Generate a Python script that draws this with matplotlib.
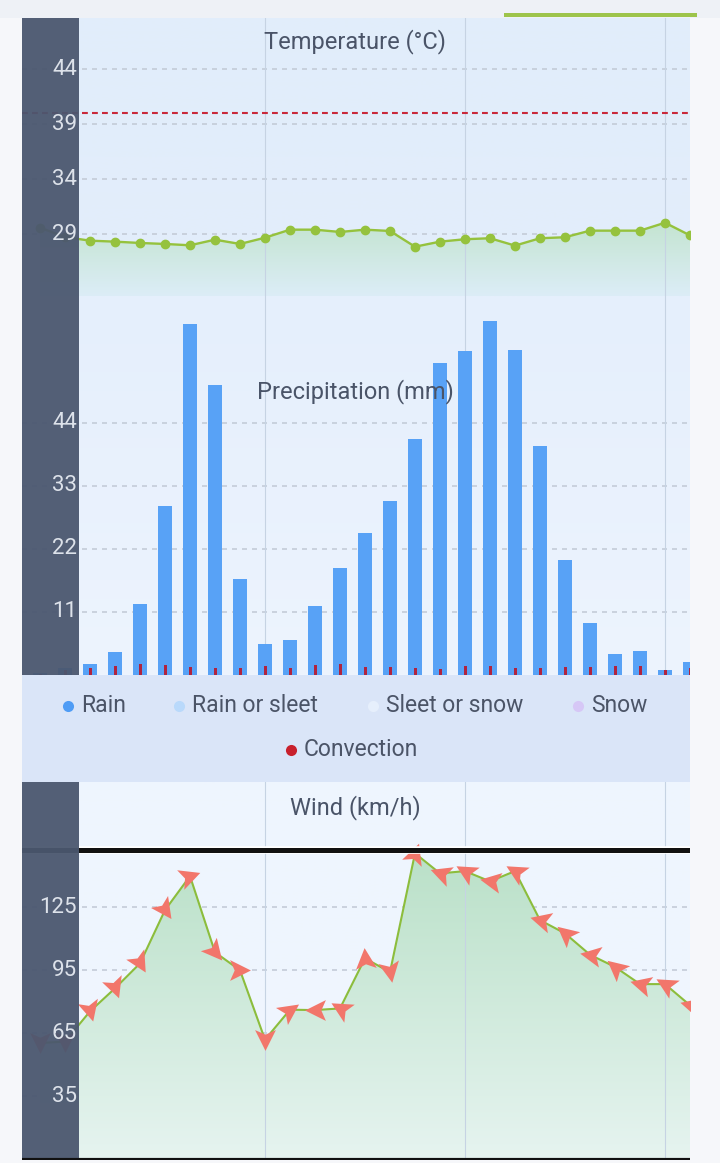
import numpy as np
import matplotlib
matplotlib.use("Agg")
import matplotlib.pyplot as plt
from matplotlib.patches import Rectangle
from matplotlib.markers import MarkerStyle
from matplotlib.path import Path
from matplotlib.transforms import Affine2D, blended_transform_factory
from matplotlib.colors import to_rgba

plt.rcParams['font.family'] = ['Roboto', 'DejaVu Sans']
plt.rcParams['lines.scale_dashes'] = False

# ---------------- data ----------------
# hourly slots; index -2 and -1 lie under the sticky axis panel
slots = list(range(-2, 25))
temperature = [29.6, 28.75,
               28.42, 28.33, 28.21, 28.12, 28.0, 28.51, 28.12, 28.69, 29.42, 29.42,
               29.21, 29.42, 29.3, 27.87, 28.33, 28.55, 28.64, 27.97, 28.64, 28.73,
               29.33, 29.33, 29.33, 30.05, 28.9]
heat_threshold = 40.0
rain = [0.3, 1.2,
        1.9, 4.0, 12.3, 29.4, 61.2, 50.6, 16.8, 5.45, 6.15, 12.0,
        18.7, 24.7, 30.4, 41.2, 54.4, 56.5, 61.7, 56.7, 39.9, 20.0,
        9.05, 3.6, 4.2, 0.93, 2.26]
convection = [0.2, 0.8,
              1.16, 1.57, 1.86, 1.74, 1.45, 1.28, 1.16, 1.57, 1.16, 1.74,
              1.86, 1.45, 1.39, 1.28, 1.1, 1.51, 1.57, 1.28, 1.28, 1.39,
              1.45, 1.57, 1.57, 0.8, 1.28]
wind = [60.3, 61.0,
        75.4, 86.4, 98.3, 123.7, 139.9, 103.6, 95.0, 61.9, 76.2, 76.0,
        76.8, 100.7, 94.1, 150.8, 141.2, 142.3, 137.4, 142.3, 118.9, 112.6,
        102.4, 96.6, 88.4, 88.4, 78.3]
wind_dir = [270, 270,
            285, 290, 300, 305, 20, 310, 0, 270, 35, 180,
            150, 95, 280, 70, 160, 150, 170, 150, 165, 140,
            170, 140, 165, 150, 165]
wind_cap = 152.3
day_boundaries = [7, 15, 23]

temp_ticks = [29, 34, 39, 44]
precip_ticks = [11, 22, 33, 44]
wind_ticks = [35, 65, 95, 125]

legend_labels = ["Rain", "Rain or sleet", "Sleet or snow", "Snow", "Convection"]
legend_colors = ["#4f9cf5", "#b9d9fb", "#e6effc", "#d6c7f6", "#c8202d"]

titles = ["Temperature (°C)", "Precipitation (mm)", "Wind (km/h)"]

# ---------------- layout ----------------
W, H = 720, 1163
fig = plt.figure(figsize=(W / 100, H / 100), dpi=100)
fig.patch.set_facecolor("#f6f7fa")

def fx(px):
    return px / W

def fy(py):
    return 1 - py / H

L, R = 22, 690
PANEL_R = 79

def make_ax(top, bottom):
    return fig.add_axes([fx(L), fy(bottom), fx(R - L), (bottom - top) / H])

# top strip
fig.add_artist(Rectangle((0, fy(18)), 1, 18 / H, transform=fig.transFigure,
                         facecolor="#eef1f6", edgecolor="none", zorder=0))
fig.add_artist(Rectangle((fx(504), fy(17)), fx(193), 4 / H, transform=fig.transFigure,
                         facecolor="#9dc44b", edgecolor="none", zorder=1))

ax_t = make_ax(18, 296)
ax_p = make_ax(296, 675)
ax_l = make_ax(675, 782)
ax_w = make_ax(782, 1160)

x = np.array(slots, dtype=float)
xlim = (-2.72, 24.0)

def vgrad(ax, ytop, ybot, ctop, cbot, zorder=0.5, clip=None):
    n = 256
    c1 = np.array(to_rgba(ctop))
    c2 = np.array(to_rgba(cbot))
    t = np.linspace(0, 1, n)[:, None]
    arr = (c1 * (1 - t) + c2 * t)[:, None, :]
    im = ax.imshow(arr, extent=[xlim[0], xlim[1], ybot, ytop], aspect='auto',
                   origin='upper', zorder=zorder, interpolation='bilinear')
    if clip is not None:
        im.set_clip_path(clip, transform=ax.transData)
    return im

def style(ax, ylim, ticks, bg_top, bg_bot):
    ax.set_xlim(*xlim)
    ax.set_ylim(*ylim)
    for s in ax.spines.values():
        s.set_visible(False)
    ax.set_xticks([])
    ax.set_yticks([])
    vgrad(ax, ylim[1], ylim[0], bg_top, bg_bot, zorder=0.1)
    for v in ticks:
        ax.axhline(v, color="#c4ccd8", lw=1.2, dashes=(3.6, 3.6), zorder=1)
    for d in day_boundaries:
        ax.axvline(d, color="#c6d3e3", lw=0.8, zorder=1.2)
    ax.add_patch(Rectangle((0, 0), (PANEL_R - L) / (R - L), 1, transform=ax.transAxes,
                           facecolor="#4b576f", alpha=0.95, edgecolor="none", zorder=10))
    tr = blended_transform_factory(ax.transAxes, ax.transData)
    for v in ticks:
        ax.text((77 - L) / (R - L), v, str(v), transform=tr, ha='right', va='center',
                fontsize=16, color="#dde2ea", zorder=11)

TITLE_FS = 17

# ---------- temperature ----------
t_ylim = (23.39, 48.66)
style(ax_t, t_ylim, temp_ticks, "#e1edfb", "#e3eefb")
fb = ax_t.fill_between(x, temperature, t_ylim[0], facecolor="none", edgecolor="none")
vgrad(ax_t, 30.3, t_ylim[0], "#c3e4cf", "#dcedf7", zorder=1.1, clip=fb.get_paths()[0])
ax_t.axhline(heat_threshold, color="#c9283a", lw=1.5, dashes=(4.2, 3.0), zorder=2)
ax_t.plot(x, temperature, color="#95c23d", lw=1.7, marker='o', ms=6, zorder=3)
ax_t.text((355 - L) / (R - L), 1 - (42 - 18) / 278, titles[0], transform=ax_t.transAxes,
          ha='center', va='center', fontsize=TITLE_FS, color="#4a5468", zorder=5)
ax_t.set_xlim(*xlim); ax_t.set_ylim(*t_ylim)

# ---------- precipitation ----------
p_ylim = (0, 66.1)
style(ax_p, p_ylim, precip_ticks, "#e5effc", "#edf4fe")
ax_p.bar(x, rain, width=0.56, color="#58a2f6", zorder=3)
ax_p.bar(x, convection, width=0.12, color="#b0233f", zorder=4)
ax_p.text((355 - L) / (R - L), 1 - (392 - 296) / 379, titles[1], transform=ax_p.transAxes,
          ha='center', va='center', fontsize=TITLE_FS, color="#4a5468", zorder=5)
ax_p.set_xlim(*xlim); ax_p.set_ylim(*p_ylim)

# ---------- legend band ----------
ax_l.set_xlim(L, R)
ax_l.set_ylim(782, 675)
ax_l.set_facecolor("#dae5f8")
for s in ax_l.spines.values():
    s.set_visible(False)
ax_l.set_xticks([]); ax_l.set_yticks([])
legend_pos = [(68, 706), (179, 706), (373, 706), (578, 706), (291, 750)]
for (lx, ly), lab, col in zip(legend_pos, legend_labels, legend_colors):
    ax_l.plot(lx, ly, 'o', ms=8, color=col, mec='none')
    ax_l.text(lx + 13, ly, lab, ha='left', va='center', fontsize=16.5, color="#4b5467")

# ---------- wind ----------
w_ylim = (4.5, 184.8)
style(ax_w, w_ylim, wind_ticks, "#eef5fe", "#f0f6fe")
fbw = ax_w.fill_between(x, wind, w_ylim[0], facecolor="none", edgecolor="none")
vgrad(ax_w, 155, w_ylim[0], "#b9e0c7", "#e6f4f0", zorder=1.1, clip=fbw.get_paths()[0])
ax_w.plot(x, wind, color="#8cbd3c", lw=1.5, zorder=3)
arrow = Path([(0.5, 0.0), (-0.5, 0.5), (-0.28, 0.0), (-0.5, -0.5), (0.5, 0.0)],
             [Path.MOVETO, Path.LINETO, Path.LINETO, Path.LINETO, Path.CLOSEPOLY])
for xi, wi, ang in zip(x, wind, wind_dir):
    m = MarkerStyle(arrow, transform=Affine2D().rotate_deg(ang))
    ax_w.plot([xi], [wi], ls='none', marker=m, ms=15, color="#f2766b", mec='none', zorder=4)
ax_w.axhline(wind_cap, color="#ffffff", lw=5.5, zorder=4.5)
ax_w.axhline(wind_cap, color="#111111", lw=3.6, zorder=5)
ax_w.axhline(w_ylim[0], color="#111111", lw=3.0, zorder=12)
ax_w.text((355 - L) / (R - L), 1 - (808 - 782) / 378, titles[2], transform=ax_w.transAxes,
          ha='center', va='center', fontsize=TITLE_FS, color="#4a5468", zorder=5)
ax_w.set_xlim(*xlim); ax_w.set_ylim(*w_ylim)

fig.savefig("out.png", dpi=100, facecolor=fig.get_facecolor())
